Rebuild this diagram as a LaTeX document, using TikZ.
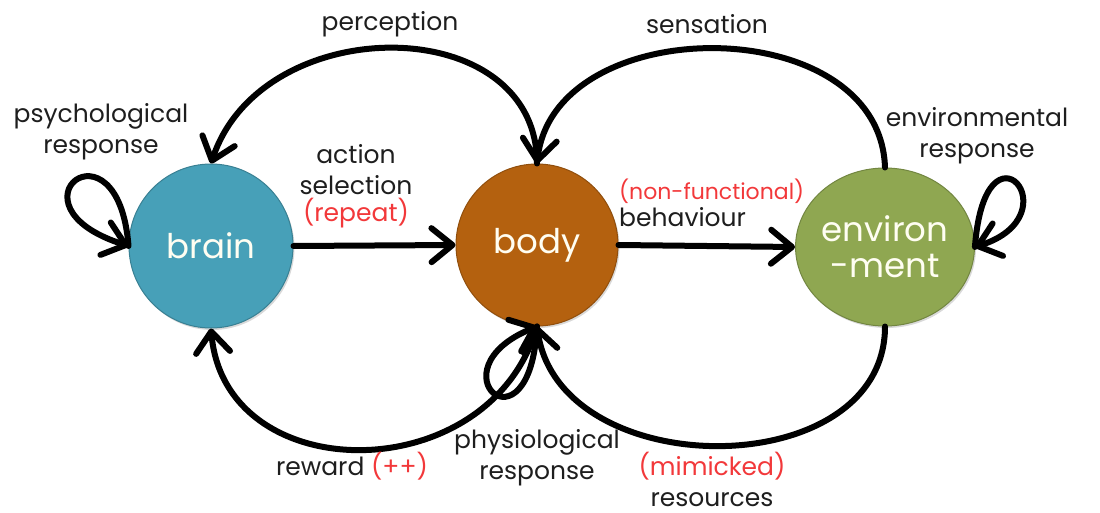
\documentclass[tikz,border=0pt]{standalone}
\usepackage{fontspec}
\setmainfont{Poppins}
\usetikzlibrary{arrows.meta,shapes.geometric,shadows}
\definecolor{brainc}{HTML}{47A0B8}
\definecolor{bodyc}{HTML}{B4610F}
\definecolor{envc}{HTML}{8FA751}
\definecolor{redt}{HTML}{F2383A}
\definecolor{labt}{HTML}{1E1E1E}
\begin{document}
\begin{tikzpicture}[x=1pt,y=-1pt,
  conn/.style={line width=6pt, draw=black, line cap=round,
    -{Straight Barb[round,length=21pt,width=34pt]}},
  ball/.style={circle, minimum size=#1, inner sep=0pt, text=white!95!yellow,
    font=\fontsize{34}{36}\selectfont, align=center,
    drop shadow={shadow xshift=1.5pt,shadow yshift=-2pt,opacity=0.3}},
  lab/.style={font=\fontsize{25}{31}\selectfont, text=labt, align=center, inner sep=0pt}
]
\useasboundingbox (0,0) rectangle (1100,513);

\node[ball=164pt, fill=brainc, draw=brainc!80!black, line width=1pt] (brain) at (211,246) {brain};
\node[ball=162pt, fill=bodyc, draw=bodyc!80!black, line width=1pt] (body) at (537,245) {body};
\node[ball=160pt, ellipse, minimum width=174pt, minimum height=158pt, fill=envc, draw=envc!80!black, line width=1pt] (env) at (885,247) {environ\\-ment};

% straight arrows
\draw[conn] (brain.east) -- (body.west);
\draw[conn] (body.east) -- (env.west);

% top arcs
\draw[conn] (body.north) .. controls (537,10) and (262,10) .. (brain.north);
\draw[conn] (env.north) .. controls (880,10) and (555,10) .. (body.north);

% bottom arcs
\draw[conn] (body.south) .. controls (490,490) and (225,490) .. (brain.south);
\draw[conn] (env.south) .. controls (885,485) and (560,485) .. (body.south);

% self loops
\draw[conn] (brain.west) .. controls (118,112) and (0,205) .. (brain.west);
\draw[conn] (env.east) .. controls (985,110) and (1075,215) .. (env.east);
\draw[conn] (body.south) .. controls (530,460) and (430,370) .. (body.south);

% labels
\node[lab] (lperc) at (390,24) {perception};
\node[lab] (lsens) at (707,24) {sensation};
\node[lab] (lpsy) at (101,132) {psychological\\response};
\node[lab] (lenv) at (977,136) {environmental\\response};
\node[lab] (lact) at (356,186) {action\\selection\\[-4pt]{\color{redt}(repeat)}};
\node[lab, align=left, anchor=west] (lbeh) at (619,203) {{\color{redt}\fontsize{22}{26}\selectfont(non-functional)}\\[-4pt]behaviour};
\node[lab] (lrew) at (352,466) {reward {\color{redt}(++)}};
\node[lab] (lphy) at (537,458) {physiological\\response};
\node[lab] (lres) at (712,479) {{\color{redt}(mimicked)}\\resources};
\end{tikzpicture}
\end{document}
